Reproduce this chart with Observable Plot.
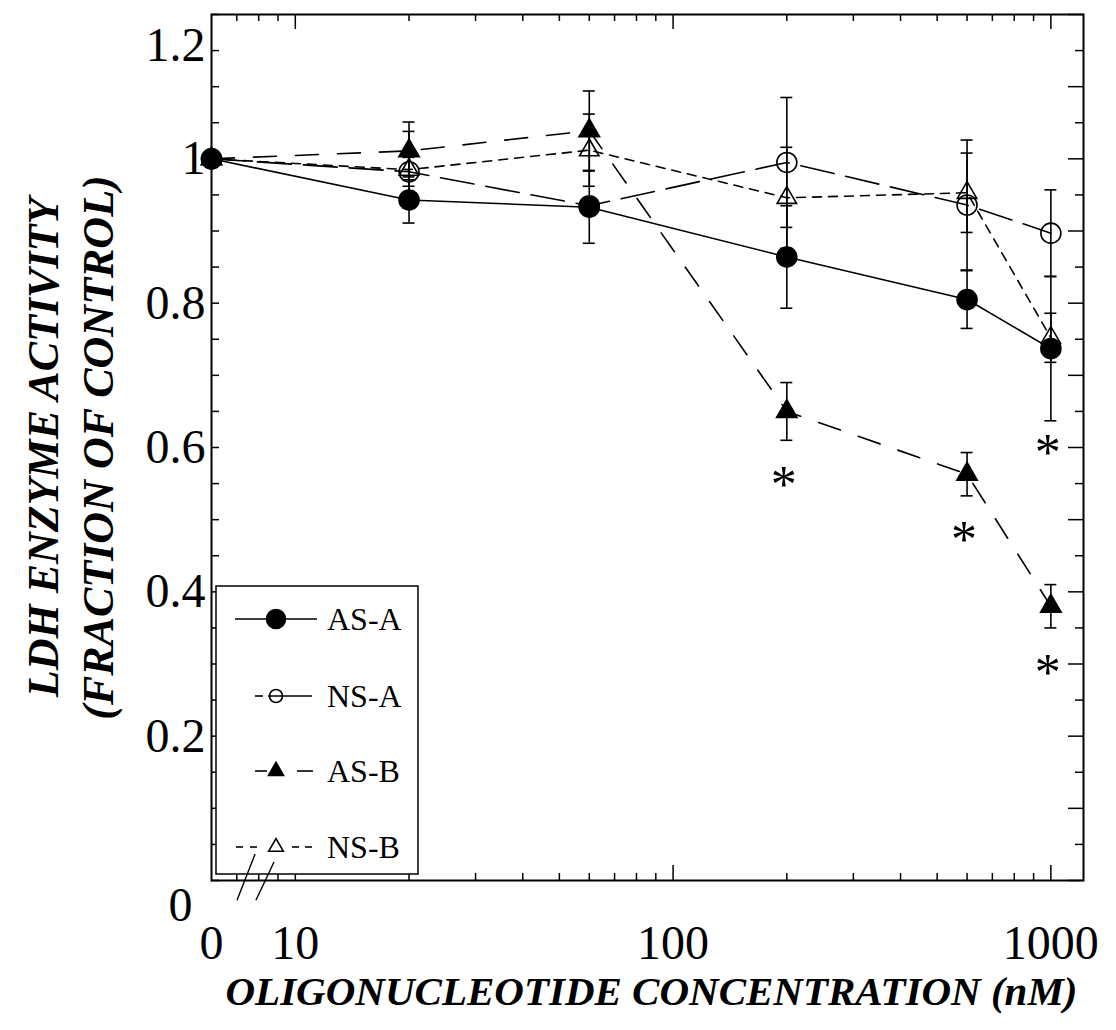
<!DOCTYPE html>
<html>
<head>
<meta charset="utf-8">
<script src="https://cdn.jsdelivr.net/npm/d3@7"></script>
<script src="https://cdn.jsdelivr.net/npm/@observablehq/plot@0.6"></script>
<style>
  body { margin: 0; background: #fff; }
  #chart svg { display: block; font-family: "Liberation Serif", "Times New Roman", serif; }
</style>
</head>
<body>
<div id="chart"></div>
<script>
// ---------- data ----------
const concentrations = [0, 20, 60, 200, 600, 1000];          // nM (0 = control)
const seriesNames = ["AS-A", "NS-A", "AS-B", "NS-B"];
const asA    = [1.000, 0.943, 0.933, 0.864, 0.805, 0.737];
const asAErr = [0,     0.032, 0.050, 0.071, 0.040, 0.100];
const nsA    = [1.000, 0.982, 0.935, 0.995, 0.936, 0.897];
const nsAErr = [0,     0.020, 0,     0.090, 0.090, 0.060];
const asB    = [1.000, 1.011, 1.039, 0.650, 0.563, 0.380];
const asBErr = [0,     0.040, 0.055, 0.040, 0.030, 0.030];
const nsB    = [1.000, 0.985, 1.012, 0.946, 0.953, 0.752];
const nsBErr = [0,     0.053, 0.050, 0.070, 0.055, 0.034];
const asASig = [0, 0, 0, 0, 0, 1];   // asterisk under the point
const nsASig = [0, 0, 0, 0, 0, 0];
const asBSig = [0, 0, 0, 1, 1, 1];
const nsBSig = [0, 0, 0, 0, 0, 0];

const xTickValues = [0, 10, 100, 1000];
const xTickLabels = ["0", "10", "100", "1000"];
const yTickValues = [0.2, 0.4, 0.6, 0.8, 1];
const yTickLabels = ["0.2", "0.4", "0.6", "0.8", "1"];
const yTopLabel = [1.2], yTopText = ["1.2"];
const yZeroLabel = [0], yZeroText = ["0"];
const xMinorTicks = [7, 8, 9, 20, 30, 40, 50, 60, 70, 80, 90, 200, 300, 400, 500, 600, 700, 800, 900];
const xMajorTicks = [10, 100, 1000];
const yMinorTicks = d3.range(0, 25).map(i => +(i * 0.05).toFixed(2));
const xTitle = "OLIGONUCLEOTIDE CONCENTRATION (nM)";
const yTitle = "LDH ENZYME ACTIVITY\n(FRACTION OF CONTROL)";

// ---------- layout ----------
const W = 1116, H = 1030;
const mL = 211, mR = 33, mT = 14, mB = 150;
const plotW = W - mL - mR, plotH = H - mT - mB;
const xAxisStart = 6, xAxisEnd = 1220;   // log axis with a break: control (0) sits at the start
const px = c => (c === 0 ? xAxisStart : c);

const styles = {
  "AS-A": {values: asA, err: asAErr, sig: asASig, symbol: "circle",   fill: "black", r: 10,  dash: null,    sigDy: 33},
  "NS-A": {values: nsA, err: nsAErr, sig: nsASig, symbol: "circle",   fill: "none",  r: 10,  dash: "34,12", sigDy: 45},
  "AS-B": {values: asB, err: asBErr, sig: asBSig, symbol: "triangle", fill: "black", r: 7.6, dash: "23,19", sigDy: 45},
  "NS-B": {values: nsB, err: nsBErr, sig: nsBSig, symbol: "triangle", fill: "none",  r: 7.2, dash: "9,7",   sigDy: 45}
};

const rows = seriesNames.flatMap(name => concentrations.map((c, i) => ({
  series: name, x: px(c), y: styles[name].values[i], e: styles[name].err[i], sig: styles[name].sig[i]
})));
const errRows = rows.filter(d => d.e > 0);

const serif = "Liberation Serif, Times New Roman, serif";
const marks = [];
// inward tick marks on all four sides
marks.push(Plot.tickY(yMinorTicks, {y: d => d, insetRight: plotW - 8, stroke: "black", strokeWidth: 1.5}));
marks.push(Plot.tickY(yMinorTicks.filter(v => Math.round(v * 100) % 10 === 0), {y: d => d, insetLeft: plotW - 15, stroke: "black", strokeWidth: 1.5}));
marks.push(Plot.tickY(yMinorTicks.filter(v => Math.round(v * 100) % 10 !== 0), {y: d => d, insetLeft: plotW - 8, stroke: "black", strokeWidth: 1.5}));
marks.push(Plot.tickX(xMinorTicks, {x: d => d, insetBottom: plotH - 7, stroke: "black", strokeWidth: 1.5}));
marks.push(Plot.tickX(xMajorTicks, {x: d => d, insetBottom: plotH - 15, stroke: "black", strokeWidth: 1.5}));
marks.push(Plot.tickX(xMinorTicks, {x: d => d, insetTop: plotH - 7, stroke: "black", strokeWidth: 1.5}));
marks.push(Plot.tickX(xMajorTicks, {x: d => d, insetTop: plotH - 15, stroke: "black", strokeWidth: 1.5}));
marks.push(Plot.frame({stroke: "black", strokeWidth: 2}));

// axis tick labels
const tickFont = {fontSize: 48, fontFamily: serif, fill: "black"};
marks.push(Plot.text(xTickValues, {x: d => px(d), text: (d, i) => xTickLabels[i], frameAnchor: "bottom",
  lineAnchor: "top", dy: 44, ...tickFont}));
marks.push(Plot.axisY({ticks: yTickValues, tickFormat: d => yTickLabels[yTickValues.indexOf(d)],
  tickSize: 0, tickPadding: 6, label: null, ...tickFont}));
marks.push(Plot.axisY({ticks: yTopLabel, tickFormat: d => yTopText[yTopLabel.indexOf(d)],
  tickSize: 0, tickPadding: 6, dy: 31, label: null, ...tickFont}));
marks.push(Plot.axisY({ticks: yZeroLabel, tickFormat: d => yZeroText[yZeroLabel.indexOf(d)],
  tickSize: 0, tickPadding: 19, dy: 25, label: null, ...tickFont}));

// series lines
for (const name of seriesNames) {
  const s = styles[name];
  marks.push(Plot.line(rows.filter(d => d.series === name), {
    x: "x", y: "y", stroke: "black", strokeWidth: 1.6,
    ...(s.dash ? {strokeDasharray: s.dash} : {})
  }));
}
// error bars
marks.push(Plot.ruleX(errRows, {x: "x", y1: d => d.y - d.e, y2: d => d.y + d.e, stroke: "black", strokeWidth: 1.6}));
marks.push(Plot.ruleY(errRows, {x1: "x", x2: "x", y: d => d.y - d.e, insetLeft: -6, insetRight: -6, stroke: "black", strokeWidth: 1.6}));
marks.push(Plot.ruleY(errRows, {x1: "x", x2: "x", y: d => d.y + d.e, insetLeft: -6, insetRight: -6, stroke: "black", strokeWidth: 1.6}));
// markers
for (const name of seriesNames) {
  const s = styles[name];
  marks.push(Plot.dot(rows.filter(d => d.series === name), {
    x: "x", y: "y", r: s.r, symbol: s.symbol,
    fill: s.fill, stroke: "black", strokeWidth: 1.6
  }));
}
// significance asterisks below the lower error bar
for (const name of seriesNames) {
  const sig = rows.filter(d => d.series === name && d.sig);
  if (!sig.length) continue;
  marks.push(Plot.text(sig, {x: "x", y: d => d.y - d.e, text: () => "*", dy: styles[name].sigDy, dx: -3,
    fontSize: 52, fontFamily: serif, fill: "black"}));
}

// titles
marks.push(Plot.text([xTitle], {text: d => d, frameAnchor: "bottom", dy: 124, dx: 4,
  fontSize: 41, fontWeight: "bold", fontStyle: "italic", fontFamily: serif, fill: "black"}));
marks.push(Plot.text([yTitle], {text: d => d, frameAnchor: "left", textAnchor: "middle", rotate: -90, dx: -144,
  lineHeight: 1.25, fontSize: 44, fontWeight: "bold", fontStyle: "italic", fontFamily: serif, fill: "black"}));

const chart = Plot.plot({
  width: W, height: H,
  marginLeft: mL, marginRight: mR, marginTop: mT, marginBottom: mB,
  style: {background: "white", color: "black", fontFamily: serif},
  x: {type: "log", domain: [xAxisStart, xAxisEnd], axis: null},
  y: {domain: [0, 1.2]},
  marks
});
document.getElementById("chart").append(chart);

// ---------- in-frame legend ----------
const svg = d3.select(chart);
const lg = svg.append("g").attr("stroke", "black").attr("stroke-width", 1.6);
lg.append("rect").attr("x", 216).attr("y", 586).attr("width", 202).attr("height", 288)
  .attr("fill", "white").attr("stroke-width", 1.5);
const legendY = [619, 696, 771, 847];
const legendSegs = {
  "AS-A": [[235, 317]],
  "NS-A": [[255, 263], [268, 312]],
  "AS-B": [[255, 267], [297, 313]],
  "NS-B": [[236, 243], [250, 257], [292, 299], [305, 312]]
};
const legendSym = {"AS-A": 9.5, "NS-A": 6.5, "AS-B": 5.6, "NS-B": 5.4};
seriesNames.forEach((name, i) => {
  const y = legendY[i], s = styles[name];
  for (const [a, b] of legendSegs[name]) lg.append("line").attr("x1", a).attr("x2", b).attr("y1", y).attr("y2", y);
  const type = s.symbol === "circle" ? d3.symbolCircle : d3.symbolTriangle;
  const rr = legendSym[name];
  lg.append("path").attr("d", d3.symbol().type(type).size(Math.PI * rr * rr)())
    .attr("transform", `translate(276,${y})`).attr("fill", s.fill);
  lg.append("text").attr("x", 327).attr("y", y).attr("dy", "0.35em").attr("stroke", "none")
    .attr("text-anchor", "start").attr("fill", "black").attr("font-size", 32)
    .attr("font-family", serif).text(name);
});

// axis-break slashes across the bottom axis
const xs = chart.scale("x"), ys = chart.scale("y");
const breakMarks = [[7.03, -0.028, 7.85, 0.036], [7.89, -0.028, 8.81, 0.025]];
for (const [a, b, c, d] of breakMarks) {
  svg.append("line").attr("x1", xs.apply(a)).attr("y1", ys.apply(b)).attr("x2", xs.apply(c)).attr("y2", ys.apply(d))
    .attr("stroke", "black").attr("stroke-width", 1.4);
}
</script>
</body>
</html>
